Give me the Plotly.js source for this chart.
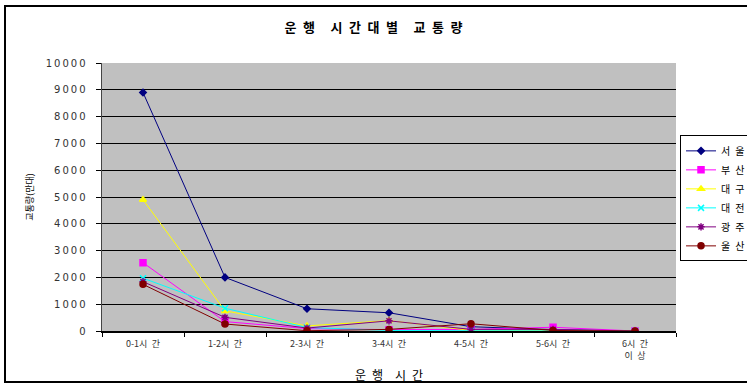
<!DOCTYPE html>
<html><head><meta charset="utf-8">
<script src="https://cdn.plot.ly/plotly-3.0.1.min.js"></script>
<style>
html,body{margin:0;padding:0;background:#fff;overflow:hidden;}
#chart{width:747px;height:386px;position:relative;}
#frame{position:absolute;left:4px;top:5px;width:760px;height:378px;border:2px solid #000;box-sizing:border-box;pointer-events:none;z-index:10;}
</style>
</head><body>
<div id="chart"><div id="frame"></div></div>
<script>
const S = '\u2002';
const categories = ["0-1시"+S+"간","1-2시"+S+"간","2-3시"+S+"간","3-4시"+S+"간","4-5시"+S+"간","5-6시"+S+"간","6시"+S+"간<br>이"+S+"상"];
const seoul   = [8900, 2000, 830, 680, 160, 50, 0];
const busan   = [2550, 350, 90, 50, 60, 140, 0];
const daegu   = [4900, 750, 190, 390, 20, 10, 0];
const daejeon = [1970, 850, 130, 20, 10, 5, 0];
const gwangju = [1840, 510, 110, 380, 60, 60, 0];
const ulsan   = [1740, 260, 10, 60, 270, 20, 0];
const seriesNames = ["서"+S+"울","부"+S+"산","대"+S+"구","대"+S+"전","광"+S+"주","울"+S+"산"];
const yTicks = [0,1000,2000,3000,4000,5000,6000,7000,8000,9000,10000];

const data = [seoul,busan,daegu,daejeon,gwangju,ulsan];
const colors = ["#000080","#FF00FF","#FFFF00","#00FFFF","#800080","#800000"];
const symbols = ["diamond","square","triangle-up","x-thin-open","asterisk-open","circle"];
const sizes = [5,6,6,6,6,6];
const traces = data.map((d,i)=>({
  type:'scatter', mode:'lines+markers', name:seriesNames[i],
  x:categories, y:d,
  line:{color:colors[i], width:1},
  marker:{symbol:symbols[i], size:sizes[i], color:colors[i], line:{color:colors[i], width:1.5}}
}));

const spaced = s => s.split('').join('\u2009');
const W = '\u2003\u2009';

const layout = {
  width:747, height:386,
  margin:{l:102, r:71, t:63, b:55, autoexpand:false},
  paper_bgcolor:'rgba(0,0,0,0)',
  plot_bgcolor:'#C0C0C0',
  font:{family:'"Noto Sans CJK KR", "DejaVu Sans", sans-serif', color:'#000'},
  title:{text:'<b>운'+S+'행'+W+'시'+S+'간'+S+'대'+S+'별'+W+'교'+S+'통'+S+'량</b>', x:0.5, xanchor:'center', y:0.928, yanchor:'middle', font:{size:13, color:'#000'}},
  xaxis:{
    type:'category', range:[-0.5,6.5],
    showgrid:false, showline:true, linecolor:'#000', linewidth:1.5,
    ticks:'outside', ticklen:4, tickcolor:'#000', tickson:'boundaries',
    tickfont:{size:9, color:'#333'}, ticklabelstandoff:4,
    title:{text:'운'+S+'행'+S+S+'시'+S+'간', font:{size:12}, standoff:10},
    mirror:false
  },
  yaxis:{
    range:[0,10000], tickvals:yTicks, ticktext:yTicks.map(v=>spaced(String(v))),
    showgrid:true, gridcolor:'#000', gridwidth:1,
    showline:true, linecolor:'#444', linewidth:1.5,
    ticks:'outside', ticklen:5, tickcolor:'#000',
    tickfont:{size:10, color:'#333', family:'"DejaVu Sans", sans-serif'}, ticklabelstandoff:8,
    title:{text:'교통량(만대)', font:{size:9}, standoff:10},
    zeroline:false
  },
  showlegend:true,
  legend:{x:1.007, xanchor:'left', y:0.73, yanchor:'top',
    bgcolor:'#fff', bordercolor:'#000', borderwidth:1,
    font:{size:10}, tracegroupgap:0, itemwidth:30}
};
Plotly.newPlot('chart', traces, layout, {displayModeBar:false, staticPlot:true});
</script>
</body></html>
